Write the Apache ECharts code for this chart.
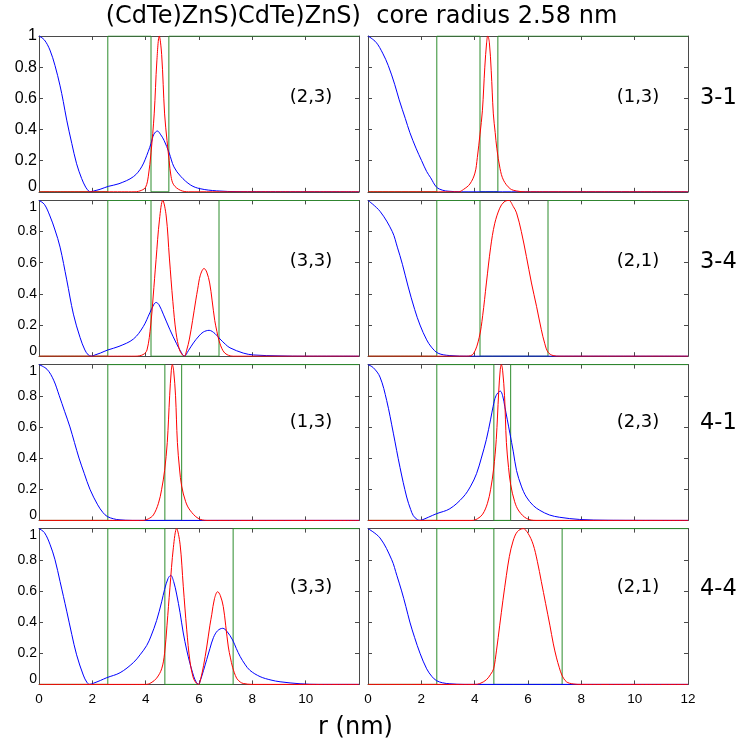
<!DOCTYPE html>
<html><head><meta charset="utf-8">
<script src="https://cdn.jsdelivr.net/npm/echarts/dist/echarts.min.js"></script>
<style>html,body{margin:0;padding:0;background:#fff}#c{width:744px;height:747px}</style>
</head><body><div id="c"></div>
<script>
// ---------------- data ----------------
const titleText = '(CdTe)ZnS)CdTe)ZnS)  core radius 2.58 nm';
const xLabelText = 'r (nm)';
const rowNames = ['3-1', '3-4', '4-1', '4-4'];
const stateLeft = ['(2,3)', '(3,3)', '(1,3)', '(3,3)'];
const stateRight = ['(1,3)', '(2,1)', '(2,3)', '(2,1)'];
const xTicks = [0, 2, 4, 6, 8, 10, 12];
const yTicks = [0, 0.2, 0.4, 0.6, 0.8, 1];

// shell interfaces (nm) for each structure
const shells31 = [2.58, 4.20, 4.87];
const shells34 = [2.58, 4.20, 6.75];
const shells41 = [2.58, 4.72, 5.35];
const shells44 = [2.58, 4.72, 7.28];

// row 3-1
const blue31L = [[0,1],[0.2,0.975],[0.41,0.91],[0.6,0.81],[0.79,0.68],[0.91,0.58],[1.04,0.46],[1.23,0.31],[1.41,0.18],[1.6,0.085],[1.75,0.03],[1.87,0.004],[1.94,0],[2.05,0.005],[2.29,0.016],[2.6,0.035],[3.0,0.052],[3.54,0.097],[3.85,0.16],[4.1,0.26],[4.2,0.31],[4.31,0.37],[4.44,0.39],[4.55,0.37],[4.69,0.33],[4.88,0.25],[5.06,0.16],[5.31,0.1],[5.69,0.043],[6.04,0.02],[6.66,0.006],[7.5,0.001],[12,0]];
const red31L = [[0,0],[3.6,0],[3.85,0.01],[4.0,0.03],[4.1,0.1],[4.2,0.25],[4.32,0.5],[4.42,0.84],[4.51,1.0],[4.6,0.88],[4.71,0.5],[4.8,0.33],[4.88,0.2],[4.95,0.1],[5.05,0.045],[5.3,0.01],[5.6,0],[12,0]];
const blue31R = [[0,1],[0.3,0.96],[0.55,0.89],[0.76,0.81],[1.0,0.69],[1.17,0.59],[1.4,0.47],[1.57,0.38],[1.8,0.28],[2.01,0.2],[2.2,0.13],[2.35,0.09],[2.57,0.03],[2.8,0.01],[3.0,0.004],[3.5,0],[12,0]];
const red31R = [[0,0],[3.4,0],[3.58,0.015],[3.82,0.05],[4.01,0.12],[4.1,0.22],[4.2,0.37],[4.29,0.52],[4.38,0.8],[4.45,0.96],[4.49,1.0],[4.55,0.96],[4.62,0.78],[4.7,0.5],[4.77,0.38],[4.83,0.28],[4.95,0.15],[5.08,0.075],[5.33,0.02],[5.58,0.005],[5.9,0],[12,0]];

// row 3-4
const blue34L = [[0,1],[0.2,0.975],[0.41,0.9],[0.6,0.81],[0.79,0.7],[1.04,0.49],[1.29,0.27],[1.54,0.12],[1.72,0.04],[1.85,0.008],[1.96,0],[2.1,0.008],[2.3,0.02],[2.58,0.04],[3.0,0.063],[3.54,0.11],[3.91,0.19],[4.16,0.28],[4.3,0.33],[4.39,0.345],[4.5,0.33],[4.66,0.27],[4.91,0.17],[5.16,0.08],[5.3,0.035],[5.45,0],[5.6,0.035],[5.79,0.085],[6.0,0.13],[6.16,0.155],[6.38,0.166],[6.6,0.145],[6.79,0.11],[7.0,0.075],[7.16,0.054],[7.66,0.02],[8.04,0.008],[9,0.002],[10,0],[12,0]];
const red34L = [[0,0],[3.6,0],[3.9,0.01],[4.05,0.04],[4.19,0.2],[4.28,0.38],[4.39,0.62],[4.52,0.88],[4.64,1.0],[4.77,0.9],[4.89,0.63],[5.02,0.35],[5.14,0.15],[5.27,0.04],[5.38,0.008],[5.45,0],[5.54,0.04],[5.64,0.11],[5.76,0.23],[5.88,0.36],[5.95,0.43],[6.05,0.52],[6.19,0.563],[6.29,0.54],[6.4,0.47],[6.49,0.36],[6.59,0.23],[6.67,0.16],[6.75,0.1],[6.9,0.035],[7.05,0.01],[7.3,0],[12,0]];
const blue34R = [[0,1],[0.45,0.93],[0.91,0.8],[1.1,0.7],[1.29,0.59],[1.5,0.45],[1.75,0.3],[1.95,0.2],[2.2,0.105],[2.38,0.058],[2.63,0.019],[3.07,0.004],[3.8,0],[12,0]];
const red34R = [[0,0],[3.7,0],[3.95,0.015],[4.17,0.12],[4.3,0.26],[4.44,0.47],[4.6,0.7],[4.75,0.85],[4.94,0.95],[5.1,0.99],[5.28,1.0],[5.45,0.96],[5.57,0.92],[5.75,0.8],[5.94,0.64],[6.13,0.47],[6.32,0.32],[6.5,0.17],[6.63,0.08],[6.75,0.026],[6.94,0.004],[7.2,0],[12,0]];

// row 4-1
const blue41L = [[0,1],[0.3,0.97],[0.55,0.9],[0.76,0.8],[0.96,0.7],[1.16,0.6],[1.33,0.5],[1.5,0.4],[1.7,0.3],[1.91,0.2],[2.2,0.1],[2.4,0.05],[2.56,0.025],[2.8,0.01],[3.0,0.004],[3.5,0],[12,0]];
const red41L = [[0,0],[3.9,0],[4.1,0.01],[4.29,0.035],[4.48,0.11],[4.6,0.2],[4.71,0.32],[4.81,0.5],[4.9,0.8],[4.96,0.96],[5.0,1.0],[5.05,0.96],[5.12,0.8],[5.19,0.5],[5.27,0.33],[5.35,0.22],[5.5,0.12],[5.66,0.066],[5.97,0.013],[6.3,0],[12,0]];
const blue41R = [[0,1],[0.2,0.98],[0.45,0.92],[0.7,0.77],[0.95,0.56],[1.2,0.34],[1.45,0.15],[1.6,0.07],[1.7,0.03],[1.85,0.005],[1.95,0],[2.1,0.008],[2.26,0.02],[2.57,0.043],[3.07,0.075],[3.57,0.15],[3.85,0.22],[4.07,0.3],[4.25,0.4],[4.44,0.52],[4.6,0.65],[4.69,0.73],[4.8,0.8],[4.96,0.83],[5.05,0.8],[5.13,0.73],[5.22,0.65],[5.32,0.56],[5.45,0.44],[5.57,0.32],[5.75,0.22],[5.94,0.15],[6.2,0.095],[6.44,0.065],[6.8,0.035],[7.19,0.02],[7.94,0.006],[9,0.001],[12,0]];
const red41R = [[0,0],[3.9,0],[4.1,0.01],[4.3,0.04],[4.48,0.11],[4.6,0.2],[4.71,0.33],[4.81,0.52],[4.9,0.82],[4.96,0.97],[5.0,1.0],[5.05,0.96],[5.12,0.8],[5.19,0.5],[5.27,0.34],[5.35,0.23],[5.5,0.12],[5.66,0.06],[5.95,0.012],[6.3,0],[12,0]];

// row 4-4
const blue44L = [[0,1],[0.2,0.975],[0.41,0.9],[0.6,0.8],[0.79,0.66],[1.04,0.47],[1.23,0.32],[1.41,0.19],[1.66,0.06],[1.8,0.012],[1.9,0],[2.05,0.008],[2.3,0.025],[2.54,0.043],[3.04,0.075],[3.54,0.14],[3.79,0.19],[4.04,0.25],[4.2,0.31],[4.41,0.41],[4.6,0.53],[4.71,0.61],[4.84,0.68],[4.94,0.7],[5.05,0.66],[5.16,0.58],[5.29,0.46],[5.41,0.33],[5.54,0.22],[5.66,0.135],[5.76,0.075],[5.85,0.03],[5.98,0],[6.06,0.03],[6.17,0.09],[6.29,0.16],[6.41,0.23],[6.54,0.3],[6.7,0.345],[6.89,0.36],[7.05,0.34],[7.26,0.285],[7.4,0.23],[7.54,0.18],[7.72,0.13],[7.91,0.09],[8.29,0.05],[8.7,0.028],[9.04,0.017],[9.79,0.004],[10.5,0],[12,0]];
const red44L = [[0,0],[4.0,0],[4.2,0.01],[4.41,0.04],[4.6,0.1],[4.71,0.2],[4.8,0.38],[4.91,0.62],[5.04,0.88],[5.16,1.0],[5.29,0.9],[5.41,0.63],[5.54,0.35],[5.66,0.15],[5.79,0.04],[5.9,0.008],[5.98,0],[6.07,0.04],[6.17,0.12],[6.29,0.24],[6.41,0.38],[6.48,0.45],[6.58,0.55],[6.7,0.595],[6.8,0.57],[6.91,0.5],[7.0,0.38],[7.1,0.24],[7.18,0.17],[7.26,0.11],[7.41,0.04],[7.55,0.015],[7.66,0.006],[8,0],[12,0]];
const blue44R = [[0,1],[0.45,0.94],[0.89,0.8],[1.08,0.7],[1.26,0.6],[1.42,0.5],[1.57,0.4],[1.75,0.3],[1.95,0.2],[2.2,0.1],[2.4,0.05],[2.57,0.024],[2.8,0.01],[3.07,0.004],[3.6,0],[12,0]];
const red44R = [[0,0],[4.0,0],[4.19,0.005],[4.44,0.03],[4.6,0.065],[4.71,0.1],[4.82,0.22],[4.94,0.38],[5.06,0.54],[5.19,0.7],[5.3,0.82],[5.44,0.92],[5.6,0.98],[5.82,1.0],[6.0,0.97],[6.19,0.9],[6.35,0.79],[6.5,0.66],[6.66,0.52],[6.82,0.38],[6.95,0.26],[7.07,0.17],[7.17,0.11],[7.27,0.06],[7.44,0.017],[7.69,0.003],[8,0],[12,0]];

// ---------------- layout / build ----------------
const panels = [
  {shells: shells31, blue: blue31L, red: red31L, label: stateLeft[0]},
  {shells: shells31, blue: blue31R, red: red31R, label: stateRight[0]},
  {shells: shells34, blue: blue34L, red: red34L, label: stateLeft[1]},
  {shells: shells34, blue: blue34R, red: red34R, label: stateRight[1]},
  {shells: shells41, blue: blue41L, red: red41L, label: stateLeft[2]},
  {shells: shells41, blue: blue41R, red: red41R, label: stateRight[2]},
  {shells: shells44, blue: blue44L, red: red44L, label: stateLeft[3]},
  {shells: shells44, blue: blue44R, red: red44R, label: stateRight[3]}
];

function profile(s) {
  const xMax = xTicks[xTicks.length - 1];
  return [[0,0],[s[0],0],[s[0],1],[s[1],1],[s[1],0],[s[2],0],[s[2],1],[xMax,1]];
}

const colLeft = [39, 368];
const gridW = 320;
const rowTop = [36, 200.4, 364.6, 528.6];
const gridH = 155.8;
const labelY = [97, 261, 422, 587];
const labelX = [311, 638];
const rowLabelY = [98, 262, 423.5, 589];

const frame = '#4a4a4a';
const green = 'rgb(45,140,45)';
const tickFont = 'Liberation Sans, Arial, sans-serif';
const textFont = 'DejaVu Sans, sans-serif';

const grids = [], xAxes = [], yAxes = [], series = [], graphics = [];
panels.forEach((p, i) => {
  const r = Math.floor(i / 2), c = i % 2;
  grids.push({left: colLeft[c], top: rowTop[r], width: gridW, height: gridH, containLabel: false, outerBoundsMode: 'none'});
  const tickStyle = {show: true, inside: true, length: 4, lineStyle: {color: frame, width: 1}};
  const lineStyle = {show: true, onZero: false, lineStyle: {color: frame, width: 1}};
  const yfs = r === 0 ? 16 : 14;
  const topShift = r === 0 ? 0 : 7;
  const botShift = 5;
  xAxes.push({
    gridIndex: i, type: 'value', min: xTicks[0], max: xTicks[xTicks.length-1], interval: 2, position: 'bottom',
    axisLine: lineStyle, axisTick: tickStyle, splitLine: {show: false},
    axisLabel: {show: r === 3, margin: 8, color: '#000', fontSize: 13.5, fontFamily: tickFont,
      formatter: v => (c === 0 && v === 12) ? '' : String(v)}
  });
  xAxes.push({
    gridIndex: i, type: 'value', min: xTicks[0], max: xTicks[xTicks.length-1], interval: 2, position: 'top',
    axisLine: lineStyle, axisTick: tickStyle, splitLine: {show: false}, axisLabel: {show: false}
  });
  yAxes.push({
    gridIndex: i, type: 'value', min: yTicks[0], max: yTicks[yTicks.length-1], interval: 0.2, position: 'left',
    axisLine: lineStyle, axisTick: tickStyle, splitLine: {show: false},
    axisLabel: {show: c === 0, margin: 2, color: '#000', fontSize: yfs, fontFamily: tickFont,
      formatter: v => v === 1 ? '{a|1}' : (v === 0 ? '{b|0}' : String(v)),
      rich: {
        a: {fontSize: yfs, fontFamily: tickFont, color: '#000', lineHeight: yfs + 2 * topShift, verticalAlign: 'bottom'},
        b: {fontSize: yfs, fontFamily: tickFont, color: '#000', lineHeight: yfs + 2 * botShift, verticalAlign: 'top'}
      }}
  });
  yAxes.push({
    gridIndex: i, type: 'value', min: yTicks[0], max: yTicks[yTicks.length-1], interval: 0.2, position: 'right',
    axisLine: lineStyle, axisTick: tickStyle, splitLine: {show: false}, axisLabel: {show: false}
  });
  const base = {type: 'line', xAxisIndex: 2 * i, yAxisIndex: 2 * i, symbol: 'none', showSymbol: false, animation: false, silent: true};
  series.push(Object.assign({}, base, {data: profile(p.shells), lineStyle: {color: green, width: 1}, z: 3}));
  series.push(Object.assign({}, base, {data: p.blue, smooth: 0.35, lineStyle: {color: '#0000ff', width: 1}, z: 4}));
  series.push(Object.assign({}, base, {data: p.red, smooth: 0.35, lineStyle: {color: '#ff0000', width: 1}, z: 5}));
  graphics.push({type: 'text', x: labelX[c], y: labelY[r], style: {text: p.label, fontSize: 18, fontFamily: textFont, fill: '#000', align: 'center', verticalAlign: 'middle'}});
});

rowNames.forEach((t, r) => {
  graphics.push({type: 'text', x: 700, y: rowLabelY[r], style: {text: t, fontSize: 22.5, fontFamily: textFont, fill: '#000', align: 'left', verticalAlign: 'middle'}});
});
graphics.push({type: 'text', x: 361.5, y: 17, style: {text: titleText, fontSize: 24, fontFamily: textFont, fill: '#000', align: 'center', verticalAlign: 'middle'}});
graphics.push({type: 'text', x: 355.5, y: 728, style: {text: xLabelText, fontSize: 24, fontFamily: textFont, fill: '#000', align: 'center', verticalAlign: 'middle'}});

const chart = echarts.init(document.getElementById('c'), null, {renderer: 'canvas'});
chart.setOption({
  animation: false,
  backgroundColor: '#fff',
  grid: grids, xAxis: xAxes, yAxis: yAxes, series: series, graphic: graphics
});
</script>
</body></html>
